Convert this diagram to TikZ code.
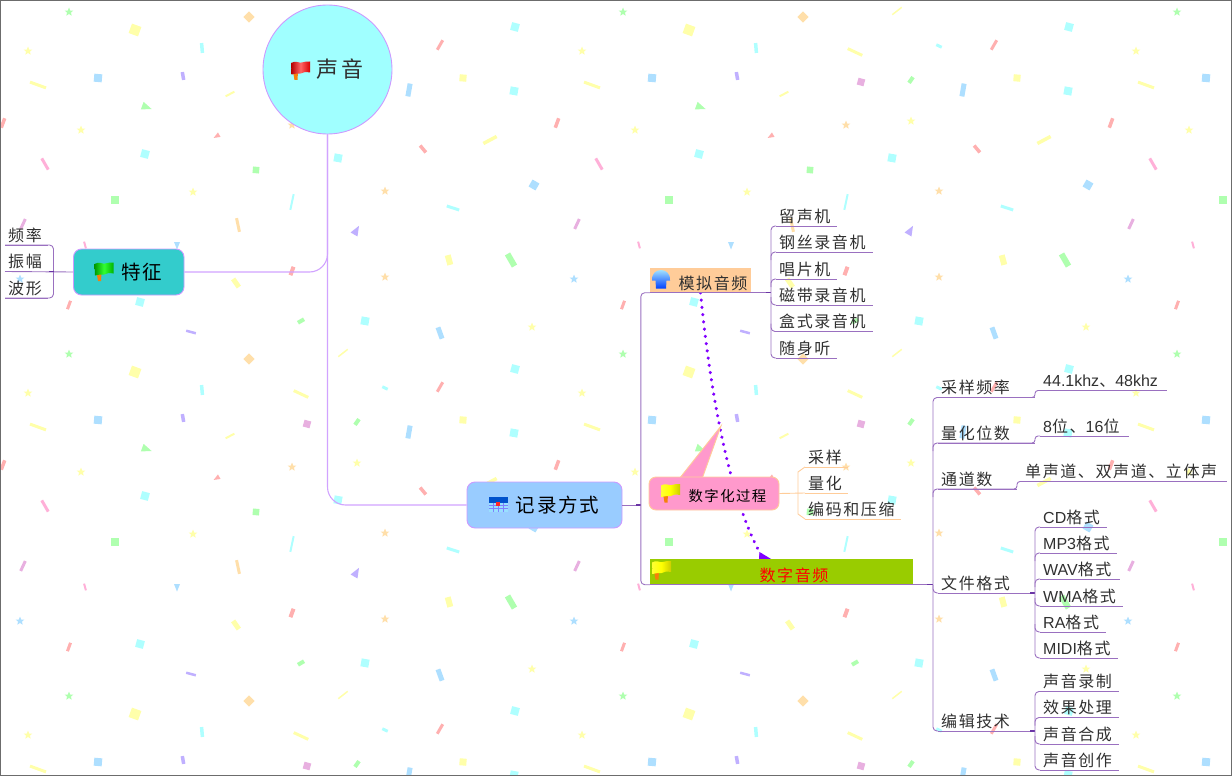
\documentclass[tikz,border=0pt]{standalone}
\usepackage{fontspec}
\setmainfont{Noto Sans CJK SC}[LetterSpace=10]
\newfontfamily\lat{Liberation Sans}
\usetikzlibrary{arrows.meta}
\definecolor{mapcyan}{HTML}{A0FFFF}
\definecolor{mapteal}{HTML}{33CCCC}
\definecolor{mapblue}{HTML}{99CCFF}
\definecolor{mapbuff}{HTML}{FFCC99}
\definecolor{mappink}{HTML}{FF99CC}
\definecolor{mapgreen}{HTML}{99CC00}
\definecolor{maplilac}{HTML}{CC99FF}
\definecolor{mapbranch}{HTML}{9A70C0}
\definecolor{mapnub}{HTML}{6A35A5}
\definecolor{maplink}{HTML}{8000FF}
\definecolor{mapink}{HTML}{303030}
\definecolor{cfcyan}{HTML}{AFFFFF}
\definecolor{cfyellow}{HTML}{FFFFAA}
\definecolor{cfblue}{HTML}{AEDFFF}
\definecolor{cfgreen}{HTML}{AFFFAF}
\definecolor{cfred}{HTML}{FFB0B0}
\definecolor{cfpink}{HTML}{FFB0D8}
\definecolor{cforange}{HTML}{FFDFAA}
\definecolor{cfpurple}{HTML}{C0B0FF}
\definecolor{cfplum}{HTML}{E8B0E0}
\pgfdeclarelayer{paper}
\pgfdeclarelayer{links}
\pgfsetlayers{paper,links,main}
\newcommand{\flagicon}[5]{%
  \fill[orange!85!brown,shift={(#1,#2)}] (-7.5,1) -- (-2.5,1) -- (-3,9.5) -- (-6,9.5) -- cycle;
  \shade[shift={(#1,#2)},left color=#3,right color=#4,middle color=#5]
    (-9.5,-7.5) .. controls (-5,-10.5) and (-1,-7) .. (1,-8) .. controls (4,-9) and (7,-9) .. (9.5,-9)
    -- (9.5,2) .. controls (5,1) and (2,2) .. (0,3) .. controls (-3,4) and (-6,2) .. (-9,4) -- cycle;}
\begin{document}
\begin{tikzpicture}[x=1pt,y=-1pt,
    topic/.style={rounded corners=8pt,draw=maplilac,line width=0.9pt,inner sep=0pt,text=black},
    leaf/.style={anchor=south west,inner xsep=3pt,inner ysep=0pt,minimum height=22pt,text height=14.5pt,text depth=0pt,text=mapink,font=\fontsize{16}{16}\selectfont},
    branch/.style={draw=mapbranch,line width=0.9pt,rounded corners=4pt},
    amber/.style={draw=mapbuff,line width=0.9pt},
    nub/.style={draw=mapnub,line width=1.6pt},
    stem/.style={draw=maplilac!90,line width=1.1pt,rounded corners=18pt},
    link/.style={draw=maplink,line width=3.2pt,line cap=round,dash pattern=on 0.3pt off 7pt}]
  \useasboundingbox (0,0) rectangle (1232,776);
  \begin{pgfonlayer}{paper}
    \clip (0,0) rectangle (1232,776);
    \foreach \col in {0,554,1108} \foreach \row in {0,342,684} {
      \begin{scope}[shift={(\col,\row)}]
        \foreach \x/\y/\a/\s/\c in {135/30/-20/10/cfyellow,249/17/45/8/cforange,98/78/-5/8/cfblue,145/154/-15/8/cfcyan,256/170/-5/6.5/cfgreen,115/200/0/8/cfgreen,307/82/-15/7/cfplum,365/321/-10/8/cfcyan,140/302/-15/8/cfcyan,338/158/-10/8/cfcyan,515/27/-15/8/cfcyan,463/78/-5/7/cfyellow,514/91/-10/8/cfcyan,534/185/-30/8/cfblue}
          \fill[\c,shift={(\x,\y)},rotate=\a] (-\s/2,-\s/2) rectangle (\s/2,\s/2);
        \foreach \x/\y/\l/\w/\a/\c in {202/48/10/3.5/85/cfcyan,183/76/8/3.5/80/cfpurple,38/85/17/3/20/cfyellow,230/94/10/2/-28/cfyellow,3/123/10/3.5/-70/cfred,45/164/13/3/60/cfpink,238/225/14/3/78/cforange,23/224/11/3/-65/cfplum,85/245/7/2/75/cfpink,292/271/9/4/-70/cfred,236/283/10/5/55/cfyellow,292/202/16/2/-78/cfcyan,301/52/16/3/25/cfyellow,301/321/7/4/-30/cfgreen,191/332/10/2.5/15/cfpurple,69/305/9/3/-70/cfred,343/11/12/1.5/-38/cfyellow,385/46/6/3/25/cfcyan,357/80/7/4/-55/cfgreen,409/90/13/5/-80/cfblue,440/45/11/3/-60/cfred,490/140/15/3.5/-28/cfyellow,423/149/9/3.5/50/cfred,453/208/13/3/18/cfcyan,449/260/10/6/75/cfyellow,511/260/14/6/60/cfgreen,440/333/12/5/70/cfblue}
          \fill[\c,shift={(\x,\y)},rotate=-\a] (-\l/2,-\w/2) rectangle (\l/2,\w/2);
        \foreach \x/\y/\c in {69/12/cfgreen,28/51/cfyellow,81/130/cfyellow,193/192/cfyellow,20/279/cfblue,385/191/cforange,385/277/cforange,292/125/cforange,357/121/cfyellow,532/327/cfyellow}
          \fill[\c,shift={(\x,\y)}] (0,-4.5) -- (1.2,-1.5) -- (4.3,-1.4) -- (1.9,0.6) -- (2.7,3.7) -- (0,2) -- (-2.7,3.7) -- (-1.9,0.6) -- (-4.3,-1.4) -- (-1.2,-1.5) -- cycle;
        \foreach \x/\y/\a/\s/\c in {146/107/70/1/cfgreen,217/136/-60/0.65/cfred,177/245/0/0.75/cfblue,356/231/150/1/cfpurple}
          \fill[\c,shift={(\x,\y)},rotate=\a,scale=\s] (-4,-4) -- (4,-4) -- (0,6) -- cycle;
      \end{scope}
    }
  \end{pgfonlayer}
  \node[circle,draw=maplilac,line width=0.9pt,fill=mapcyan,inner sep=0pt,minimum size=129pt,text=mapink,font=\fontsize{22}{22}\selectfont] (central) at (327.5,69.5) {\hspace*{25pt}声音};
  \node[topic,fill=mapteal,minimum width=110.5pt,minimum height=46pt,font=\fontsize{19.5}{19.5}\selectfont] (feature) at (128.75,272) {\hspace*{26pt}特征};
  \node[topic,fill=mapblue,minimum width=155pt,minimum height=46pt,font=\fontsize{19.5}{19.5}\selectfont] (record) at (544.5,505) {\hspace*{26pt}记录方式};
  \node[fill=mapbuff,inner sep=0pt,minimum width=101pt,minimum height=24.5pt,text height=18pt,text depth=0pt,text=mapink,font=\fontsize{16}{16}\selectfont] (analog) at (700.5,280.25) {\hspace*{25pt}模拟音频};
  \draw[mappink,fill=mappink,draw=mapbuff,line width=0.9pt] (679,479) -- (721,426) -- (702,479) -- cycle;
  \node[topic,draw=mapbuff,fill=mappink,rounded corners=7pt,minimum width=130pt,minimum height=33pt,text height=16pt,text depth=0pt,font=\fontsize{14.4}{14.4}\selectfont] (digitize) at (714,493.5) {\hspace*{27pt}数字化过程};
  \node[fill=mapgreen,inner sep=0pt,minimum width=263pt,minimum height=25.5pt,text height=18.5pt,text depth=0pt,text=red,font=\fontsize{16}{16}\selectfont] (digital) at (781.5,571.75) {\hspace*{25pt}数字音频};
  \coordinate (linkend) at (766,564);
  \begin{pgfonlayer}{links}
    \draw[link,-{Triangle[reversed,length=14pt,width=15pt]}] (analog.south) .. controls (708,370) and (725,490) .. (linkend);
  \end{pgfonlayer}
  \draw[stem] (feature.east) -| (central.south);
  \draw[stem] (record.west) -| (central.south);
  \flagicon{300.5}{70.5}{red!70!black}{red!85!black}{red!60}
  \flagicon{104}{271.5}{green!60!black}{green!70!black}{green!80}
  \flagicon{670.5}{493}{yellow!80}{yellow!80!black}{yellow}
  \flagicon{661.5}{570}{yellow!80}{yellow!80!black}{yellow}
  \shade[shift={(661,279.5)},top color=cyan!25,bottom color=blue!75!cyan] (-9,1) .. controls (-10,-13) and (10,-13) .. (9,1) -- (5.5,1) -- (5,9) -- (-5,9) -- (-5.5,1) -- cycle;
  \begin{scope}[shift={(498.5,504.5)}]
    \fill[blue!60!cyan!80!black] (-9.5,-7.5) rectangle (9.5,-2);
    \fill[blue!30!cyan!40] (-9.5,-2) rectangle (9.5,7.5);
    \foreach \gx in {-5,0,5} \draw[blue!50,line width=0.4pt] (\gx,-2) -- (\gx,7.5);
    \foreach \gy in {1,4} \draw[blue!50,line width=0.4pt] (-9.5,\gy) -- (9.5,\gy);
    \fill[red!85] (-2.5,-2.5) rectangle (1,1.5);
  \end{scope}
  \foreach \n/\x/\y/\w/\t in {freq/5/245/43/频率,wave/5/298/43/波形,
      phono/776/226/61/留声机,wire/776/252/97/钢丝录音机,disc/776/279/61/唱片机,tape/776/305/97/磁带录音机,cassette/776/331.5/97/盒式录音机,walkman/776/358/61/随身听,
      rate/938/397.5/97/采样频率,depth/938/443/97/量化位数,channel/938/489/79/通道数,filefmt/938/593/97/文件格式,edit/938/731/97/编辑技术,
      ratev/1040/390.5/127/{{\lat 44.1khz}、{\lat 48khz}},depthv/1040/436/89/{{\lat 8}位、{\lat 16}位},channelv/1022/481.5/205/单声道、双声道、立体声,
      cdfmt/1040/527/67/{{\lat CD}格式},mpfmt/1040/553/77/{{\lat MP3}格式},wavfmt/1040/579/80/{{\lat WAV}格式},wmafmt/1040/606/83/{{\lat WMA}格式},rafmt/1040/632/66/{{\lat RA}格式},midifmt/1040/658/78/{{\lat MIDI}格式},
      recfmt/1040/691.5/79/声音录制,fxfmt/1040/717.5/79/效果处理,mixfmt/1040/744/79/声音合成,artfmt/1040/770/79/声音创作}
  {
    \node[leaf] (\n) at (\x,\y) {\t};
    \draw[branch] (\n.south west) -- ++(\w,0);
  }
  \node[leaf] (amp) at (5,271.5) {振幅};
  \draw[branch] (amp.south west) -- (feature.west);
  \draw[branch] (freq.south west) -- ++(48.5,0) |- (wave.south west);
  \draw[nub] (48.5,271.5) -- (53.5,271.5);
  \foreach \n/\x/\y/\w/\t in {sample/805/467/43/采样,quant/805/493/43/量化,codec/805/519/96/编码和压缩}
  {
    \node[leaf] (\n) at (\x,\y) {\t};
    \draw[amber] (\n.south west) -- ++(\w,0);
  }
  \draw[amber] (digitize.east) -- (quant.south west);
  \draw[amber] (sample.south west) -- ++(-7,5) -- ++(0,42) -- (codec.south west);
  \draw[branch] (record.east) -- ++(19,0);
  \draw[nub] (636,505) -- (641,505);
  \draw[branch] (analog.south west) -- ++(-9,0) |- (digital.south west);
  \draw[branch] (analog.south west) -- ++(121,0);
  \draw[nub] (766,292.5) -- (771,292.5);
  \draw[branch] (digital.south west) -- (digital.south east) -- ++(20,0);
  \draw[nub] (927,584.5) -- (933,584.5);
  \draw[branch] (phono.south west) -- ++(-5,0) |- (walkman.south west);
  \foreach \n in {wire,disc} \draw[branch] (\n.south west) -| ++(-5,8);
  \foreach \n in {tape,cassette} \draw[branch] (\n.south west) -| ++(-5,-8);
  \draw[branch] (rate.south west) -- ++(-5,0) |- (edit.south west);
  \foreach \n in {depth,channel} \draw[branch] (\n.south west) -| ++(-5,8);
  \draw[branch] (filefmt.south west) -| ++(-5,-8);
  \foreach \a/\b in {rate/ratev,depth/depthv,channel/channelv}
    \draw[branch,rounded corners=3pt] (\a.south west) -| ([xshift=-5pt]\b.south west) -- (\b.south west);
  \draw[branch] (filefmt.south west) -- ++(97,0);
  \draw[branch] (edit.south west) -- ++(97,0);
  \draw[nub] (1030,593) -- (1035,593);
  \draw[nub] (1030,731) -- (1035,731);
  \draw[branch] (cdfmt.south west) -- ++(-5,0) |- (midifmt.south west);
  \foreach \n in {mpfmt,wavfmt} \draw[branch] (\n.south west) -| ++(-5,8);
  \foreach \n in {wmafmt,rafmt} \draw[branch] (\n.south west) -| ++(-5,-8);
  \draw[branch] (recfmt.south west) -- ++(-5,0) |- (artfmt.south west);
  \draw[branch] (fxfmt.south west) -| ++(-5,8);
  \draw[branch] (mixfmt.south west) -| ++(-5,-8);
  \draw[gray!85!black,line width=1.2pt] (0.5,0.5) rectangle (1231.5,775.5);
\end{tikzpicture}
\end{document}
